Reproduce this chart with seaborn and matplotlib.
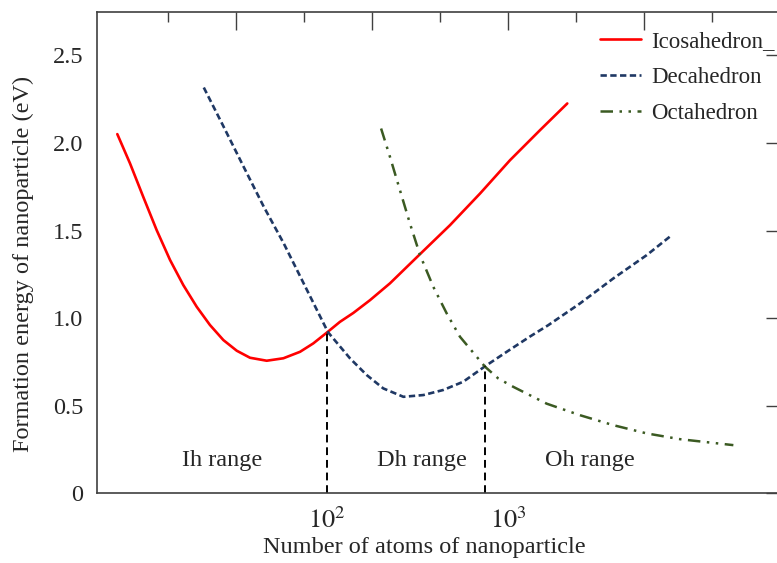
import numpy as np
import pandas as pd
import matplotlib
matplotlib.use("Agg")
import matplotlib.pyplot as plt
import seaborn as sns
from matplotlib.ticker import FixedLocator, NullFormatter, FuncFormatter

# ---------------- data ----------------
# x values given as log10(number of atoms)
ico_log_n = [0.845, 0.915, 0.988, 1.062, 1.136, 1.209, 1.283, 1.356, 1.430, 1.504,
             1.577, 1.669, 1.761, 1.853, 1.926, 2.000, 2.073, 2.147, 2.239, 2.349,
             2.515, 2.680, 2.846, 3.011, 3.177, 3.327]
ico_e = [2.051, 1.884, 1.693, 1.503, 1.332, 1.189, 1.065, 0.961, 0.875, 0.814,
         0.774, 0.757, 0.771, 0.808, 0.856, 0.917, 0.979, 1.030, 1.103, 1.199,
         1.366, 1.531, 1.712, 1.902, 2.074, 2.226]

dec_log_n = [1.322, 1.432, 1.542, 1.653, 1.763, 1.865, 2.007, 2.129, 2.221, 2.312,
             2.423, 2.533, 2.643, 2.753, 2.873, 2.993, 3.121, 3.222, 3.397, 3.581,
             3.765, 3.903]
dec_e = [2.317, 2.092, 1.864, 1.636, 1.427, 1.215, 0.920, 0.770, 0.675, 0.599,
         0.551, 0.561, 0.590, 0.637, 0.725, 0.808, 0.895, 0.960, 1.084, 1.227,
         1.360, 1.474]

oct_log_n = [2.300, 2.349, 2.404, 2.459, 2.515, 2.588, 2.662, 2.735, 2.827, 2.873,
             2.946, 3.029, 3.213, 3.397, 3.581, 3.765, 3.949, 4.243]
oct_e = [2.083, 1.921, 1.731, 1.541, 1.360, 1.179, 1.027, 0.894, 0.780, 0.723,
         0.656, 0.608, 0.512, 0.446, 0.389, 0.342, 0.309, 0.275]

series_labels = ["Icosahedron_", "Decahedron", "Octahedron"]

boundary_n = [100, 746]
boundary_e = [0.92, 0.725]

range_labels = ["Ih range", "Dh range", "Oh range"]
range_n = [26.6, 337, 2830]
range_e = [0.19, 0.19, 0.19]

y_ticks = [0, 0.5, 1.0, 1.5, 2.0, 2.5]
x_label_n = [100, 1000]
x_label_txt = [r"$10^{2}$", r"$10^{3}$"]

# ---------------- style ----------------
sns.set_theme(style="white")
plt.rcParams["font.family"] = ["Liberation Serif", "DejaVu Serif"]
plt.rcParams["mathtext.fontset"] = "stix"
FS = 17.5
axis_col = "#404040"

RIGHT_PX = 785
fig = plt.figure(figsize=(7.77, 5.63), dpi=100)
ax = fig.add_axes([97 / 777, (563 - 493.3) / 563, (RIGHT_PX - 97) / 777,
                   (493.3 - 11.7) / 563])

df_i = pd.DataFrame({"n": 10 ** np.array(ico_log_n), "e": ico_e})
df_d = pd.DataFrame({"n": 10 ** np.array(dec_log_n), "e": dec_e})
df_o = pd.DataFrame({"n": 10 ** np.array(oct_log_n), "e": oct_e})

sns.lineplot(data=df_i, x="n", y="e", ax=ax, color="#ff0000", linewidth=1.9,
             label=series_labels[0], sort=False)
sns.lineplot(data=df_d, x="n", y="e", ax=ax, color="#1f3864", linewidth=1.9,
             linestyle=(0, (2.4, 1.3)), label=series_labels[1], sort=False)
sns.lineplot(data=df_o, x="n", y="e", ax=ax, color="#3b5a22", linewidth=1.8,
             linestyle=(0, (5, 2.6, 1, 2.6, 1, 2.6)), label=series_labels[2], sort=False)

ax.vlines(boundary_n, 0, boundary_e, colors="black", linewidth=1.4,
          linestyles=[(0, (4, 2.5))])

for t, xn, ye in zip(range_labels, range_n, range_e):
    ax.text(xn, ye, t, ha="center", va="center", fontsize=FS)

ax.set_xscale("log")
ax.set_xlim(10 ** 0.733, 10 ** (3 + (RIGHT_PX - 508) / 181.3))
ax.set_ylim(0, 2.75)

ax.xaxis.set_major_locator(FixedLocator(10 ** np.array([1.5, 2.25, 3.0, 3.75])))
ax.xaxis.set_minor_locator(FixedLocator(10 ** np.array([1.125, 1.875, 2.625, 3.375, 4.125])))
ax.xaxis.set_major_formatter(NullFormatter())
ax.xaxis.set_minor_formatter(NullFormatter())
for xn, t in zip(x_label_n, x_label_txt):
    ax.text(xn, -0.029, t, transform=ax.get_xaxis_transform(), ha="center",
            va="top", fontsize=19)

ax.yaxis.set_major_locator(FixedLocator(y_ticks))
ax.yaxis.set_minor_locator(FixedLocator([0.25, 0.75, 1.25, 1.75, 2.25]))
ax.yaxis.set_major_formatter(FuncFormatter(lambda v, p: "0" if v == 0 else f"{v:.1f}"))

ax.tick_params(axis="both", which="both", direction="in", top=True, right=True,
               color=axis_col, width=1.0)
ax.tick_params(axis="y", which="major", length=14, pad=10, labelsize=FS)
ax.tick_params(axis="y", which="minor", length=8, right=False)
ax.tick_params(axis="x", which="major", length=13)
ax.tick_params(axis="x", which="minor", length=7)

for s in ax.spines.values():
    s.set_color(axis_col)
    s.set_linewidth(1.2)

ax.set_xlabel("Number of atoms of nanoparticle", fontsize=FS)
ax.set_ylabel("Formation energy of nanoparticle (eV)", fontsize=FS)
ax.xaxis.set_label_coords((424.5 - 97) / (RIGHT_PX - 97), -0.091)
ax.yaxis.set_label_coords(-0.092 * 682 / (RIGHT_PX - 97), 0.477)

leg = ax.legend(loc="upper left", bbox_to_anchor=(600 / 777, 1 - 31 / 563),
                bbox_transform=fig.transFigure, frameon=False, fontsize=16.5,
                handlelength=1.8, handletextpad=0.45, labelspacing=0.66,
                borderpad=0, borderaxespad=0)

fig.savefig("out.png", dpi=100)
